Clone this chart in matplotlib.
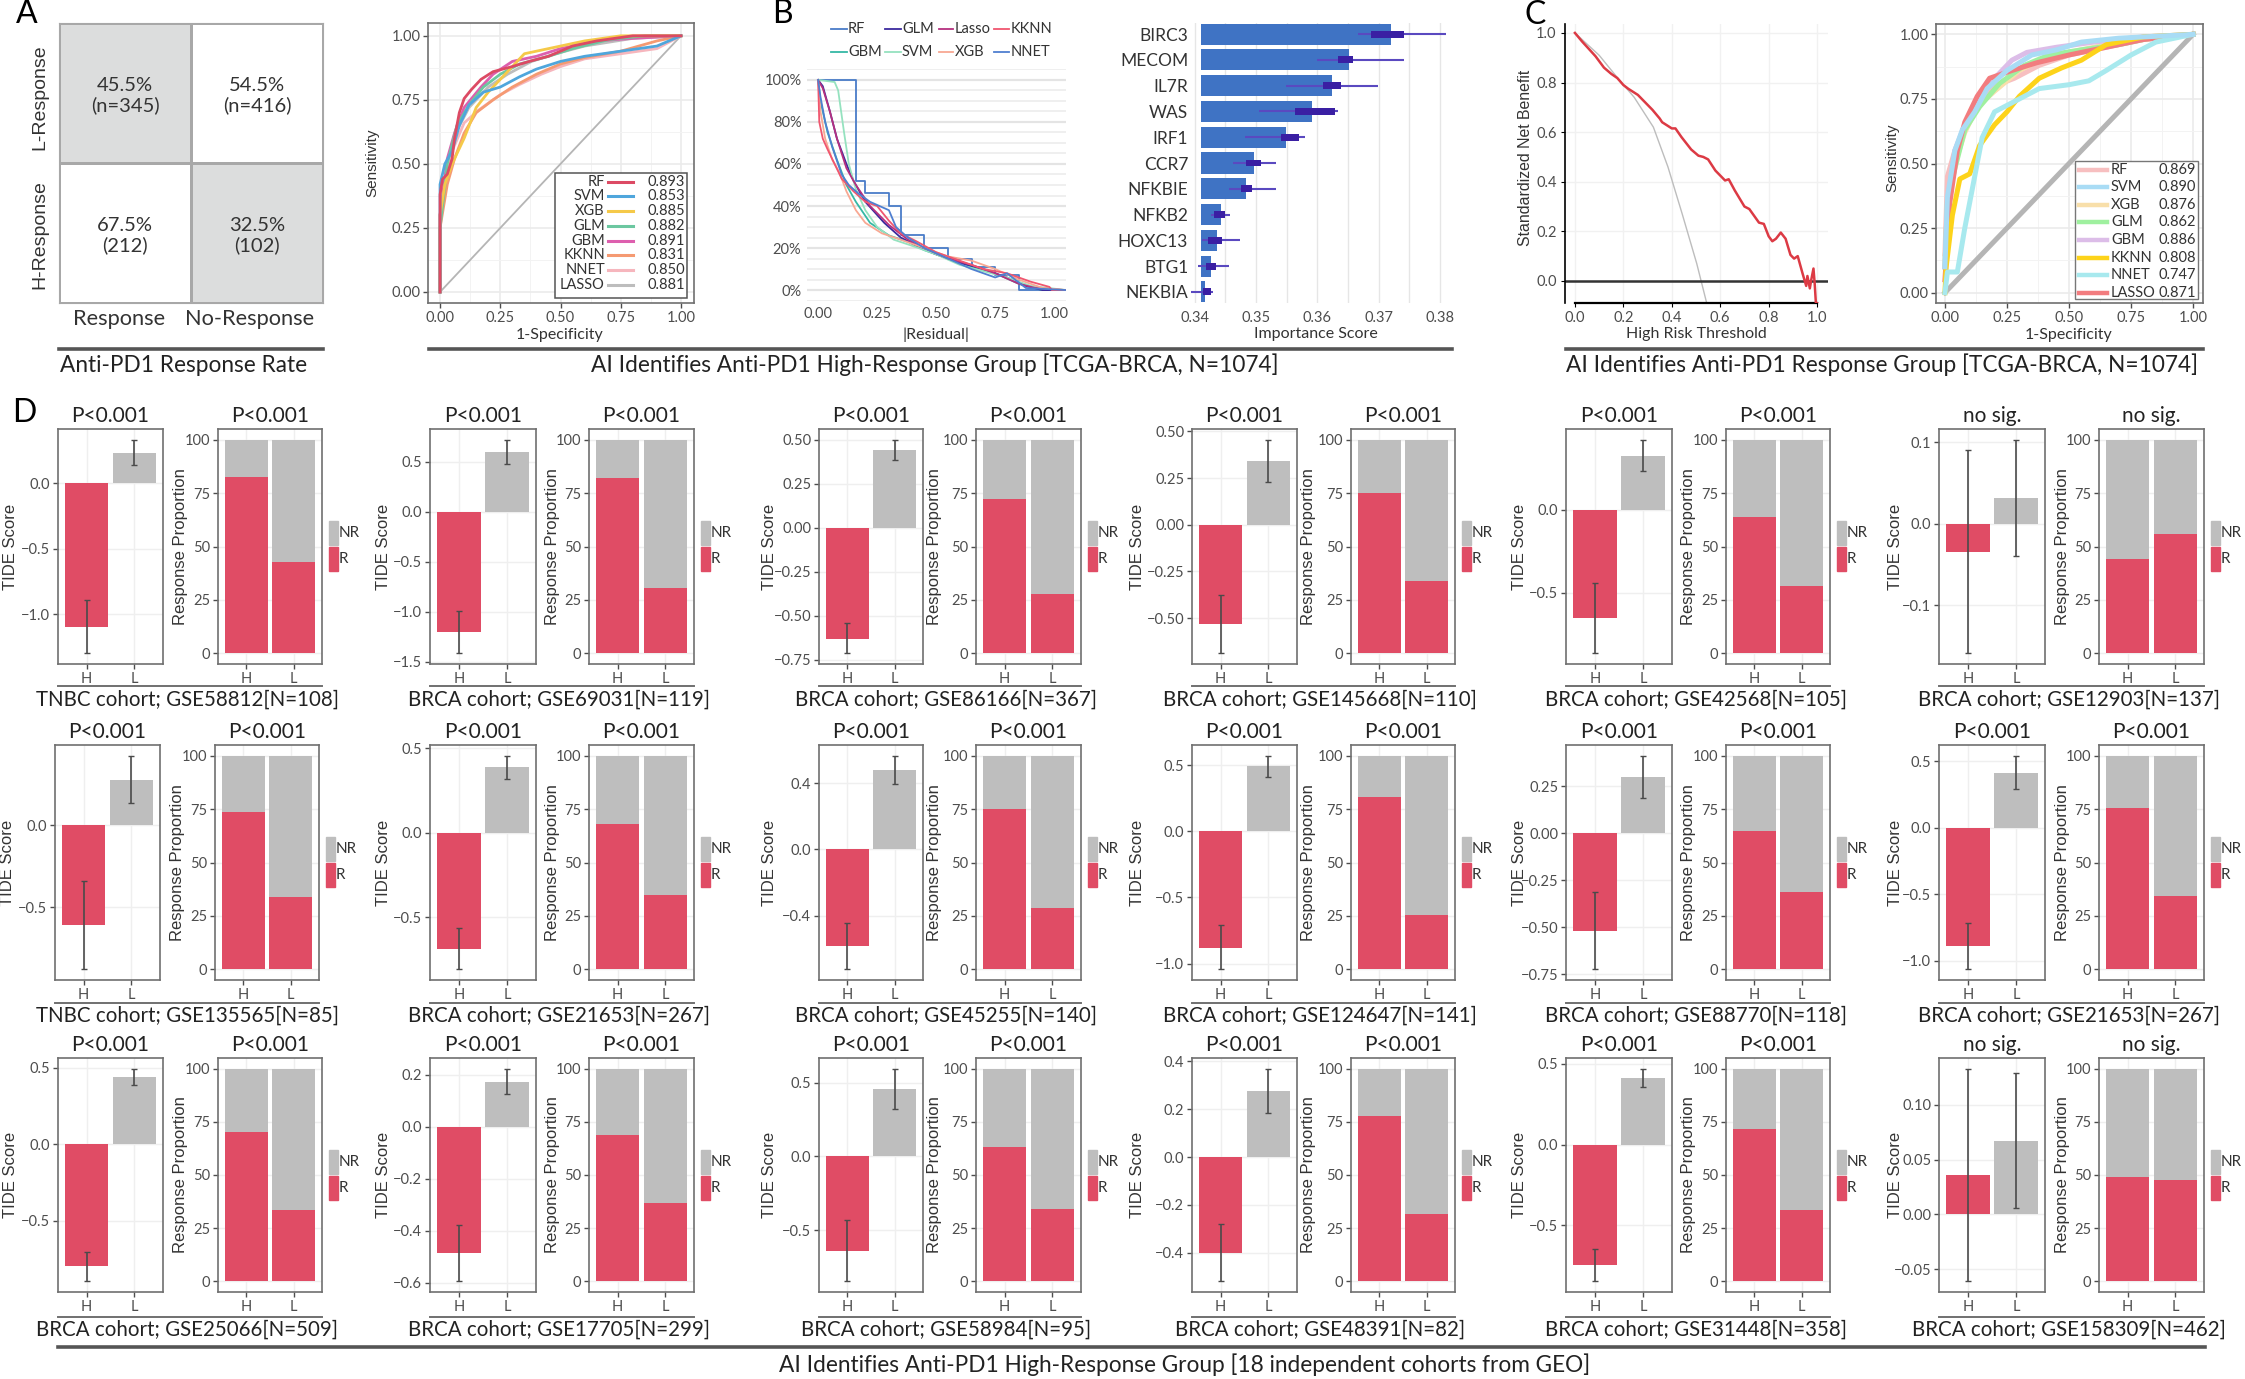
import matplotlib
matplotlib.use("Agg")
import matplotlib.pyplot as plt
from matplotlib.colors import ListedColormap
from matplotlib.lines import Line2D
from matplotlib.patches import Rectangle

W, H = 2245, 1379
plt.rcParams['font.family'] = ['Lato', 'DejaVu Sans']

# panel A, response table
heat_shade = [[0, 1], [1, 0]]
heat_pct = [["67.5%", "32.5%"], ["45.5%", "54.5%"]]
heat_n = [["(212)", "(102)"], ["(n=345)", "(n=416)"]]

# panel A, ROC curves (1-specificity, sensitivity)
roc_names = ["RF", "SVM", "XGB", "GLM", "GBM", "KKNN", "NNET", "LASSO"]
roc1_auc = ["0.893", "0.853", "0.885", "0.882", "0.891", "0.831", "0.850", "0.881"]
roc1_colors = ["#dc4a64", "#4fa6dc", "#f5c949", "#6cc7a0", "#dd5fae", "#f59a72", "#f6b6bd", "#bdbdbd"]
roc1_x = {
    "RF": [0, 0, .01, .03, .05, .06, .08, .1, .13, .17, .22, .3, .37, .45, .55, .65, .8, 1],
    "SVM": [0, 0, .02, .05, .08, .12, .18, .25, .33, .4, .5, .6, .75, .9, 1],
    "XGB": [0, 0, .02, .05, .1, .15, .2, .27, .35, .45, .6, .75, 1],
    "GLM": [0, 0, .03, .07, .12, .18, .25, .33, .45, .55, .7, .85, 1],
    "GBM": [0, 0, .03, .06, .1, .17, .22, .3, .4, .5, .65, .8, 1],
    "KKNN": [0, 0, .03, .06, .1, .15, .22, .3, .4, .5, .6, .75, .9, 1],
    "NNET": [0, 0, .02, .05, .1, .16, .25, .33, .42, .5, .6, .75, .9, 1],
    "LASSO": [0, 0, .03, .07, .12, .2, .28, .38, .48, .6, .8, 1],
}
roc1_y = {
    "RF": [0, .38, .44, .46, .52, .6, .7, .755, .79, .83, .86, .88, .9, .92, .96, .98, 1, 1],
    "SVM": [0, .42, .5, .55, .65, .73, .78, .8, .84, .87, .9, .92, .94, .96, 1],
    "XGB": [0, .3, .42, .5, .6, .72, .78, .85, .93, .95, .98, 1, 1],
    "GLM": [0, .25, .5, .65, .73, .8, .85, .89, .92, .95, .985, 1, 1],
    "GBM": [0, .3, .52, .62, .72, .8, .85, .9, .92, .95, .98, .99, 1],
    "KKNN": [0, .25, .42, .52, .62, .7, .75, .8, .85, .89, .915, .94, .98, 1],
    "NNET": [0, .3, .42, .55, .66, .71, .77, .81, .85, .88, .91, .93, .95, 1],
    "LASSO": [0, .3, .48, .63, .72, .8, .85, .9, .93, .96, .99, 1],
}

# panel B, reverse cumulative residuals
res_names = ["RF", "GBM", "GLM", "SVM", "Lasso", "XGB", "KKNN", "NNET"]
res_colors = ["#4a7cc8", "#35b8a5", "#3c2a9e", "#95e2bf", "#b5307f", "#f8a893", "#f0566f", "#4f7fd0"]
res_x = {
    "RF": [0, .16, .16, .2, .3, .35, .35, .45, .55, .65, .75, .85, .85, 1.05],
    "GBM": [0, .01, .04, .08, .12, .16, .22, .3, .38, .45, .55, .65, .75, .85, .95, 1.05],
    "GLM": [0, .02, .05, .08, .12, .15, .2, .28, .35, .42, .5, .6, .7, .8, .88, .95, 1.05],
    "SVM": [0, .07, .085, .11, .13, .16, .2, .25, .32, .4, .5, .6, .7, .8, .9, 1.05],
    "Lasso": [0, .02, .05, .08, .12, .16, .22, .3, .38, .45, .55, .65, .75, .85, .92, 1.05],
    "XGB": [0, .01, .03, .06, .09, .12, .16, .2, .27, .35, .45, .55, .65, .75, .85, .95, 1.05],
    "KKNN": [0, .005, .02, .04, .07, .1, .15, .2, .25, .3, .35, .42, .5, .6, .7, .8, .9, .98, .99, 1.05],
    "NNET": [0, .01, .03, .06, .1, .13, .17, .22, .3, .33, .38, .45, .55, .65, .75, .8, .88, 1.05],
}
res_y = {
    "RF": [100, 100, 52, 46, 40, 38.5, 26, 20, 15, 11, 7, 2, 0, 0],
    "GBM": [100, 90, 75, 62, 50, 42, 32, 26, 23, 19, 15, 11, 8, 3, 0, 0],
    "GLM": [100, 97, 85, 72, 60, 52, 42, 32, 25, 21, 17, 13, 10, 6, 2, 0, 0],
    "SVM": [100, 99, 95, 75, 60, 48, 38, 30, 24, 21, 17, 12, 9, 6, 2, 0],
    "Lasso": [100, 96, 85, 72, 58, 50, 40, 31, 24, 20, 15, 12, 8, 3, 1, 0],
    "XGB": [100, 85, 72, 62, 56, 47, 38, 32, 27, 24, 20, 16, 14, 10, 5, 1, 0],
    "KKNN": [100, 80, 72, 67, 60, 53, 47, 42, 40, 33, 27, 23, 18, 14, 10, 8, 4, 1.5, 0, 0],
    "NNET": [100, 92, 80, 68, 55, 50, 46, 42, 38, 30, 25, 20, 15, 10, 6, 8, 1, 0],
}

# panel B, importance
genes = ["BIRC3", "MECOM", "IL7R", "WAS", "IRF1", "CCR7", "NFKBIE", "NFKB2", "HOXC13", "BTG1", "NEKBIA"]
imp_score = [.3720, .3651, .3624, .3591, .3549, .3496, .3484, .3442, .3436, .3427, .3416]
imp_box_lo = [.3687, .3634, .3609, .3563, .3540, .3484, .3475, .3432, .3422, .3418, .3413]
imp_box_hi = [.3741, .3658, .3639, .3628, .3570, .3508, .3493, .3450, .3444, .3434, .3427]
imp_wh_lo = [.3666, .3599, .3549, .3505, .3482, .3463, .3455, .3427, .3412, .3406, .3394]
imp_wh_hi = [.3810, .3742, .3698, .3634, .3580, .3533, .3533, .3458, .3473, .3456, .3430]

# panel C, decision curve
dca_thr = [0, .03, .085, .12, .15, .175, .2, .22, .26, .3, .32, .35, .36, .4, .415, .44, .48, .51, .53,
           .55, .58, .62, .635, .66, .7, .72, .76, .78, .8, .815, .83, .85, .87, .89, .905, .92, .94,
           .955, .96, .97, .975, .985, .99, .995, 1]
dca_model = [1, .965, .906, .86, .835, .818, .79, .775, .75, .71, .69, .655, .64, .615, .615, .58, .53,
             .505, .50, .49, .445, .405, .41, .365, .30, .29, .235, .23, .18, .16, .17, .195, .17, .105,
             .09, .10, .03, -.02, .02, -.03, 0, .05, -.01, -.09, -.09]
dca_all_thr = [0, .1, .175, .245, .324, .384, .443, .503, .543]
dca_all = [1, .91, .82, .74, .62, .46, .27, .07, -.085]

# panel C, ROC curves
roc2_auc = ["0.869", "0.890", "0.876", "0.862", "0.886", "0.808", "0.747", "0.871"]
roc2_colors = ["#f7bfc0", "#a9dcf5", "#f8dfaa", "#9ff09f", "#dcbde8", "#fdd31a", "#a8e9ee", "#f27c7f"]
roc2_x = {
    "RF": [0, .01, .04, .08, .13, .2, .28, .38, .5, .65, .8, 1],
    "SVM": [0, .01, .04, .07, .12, .17, .25, .35, .45, .55, .7, 1],
    "XGB": [0, .01, .04, .08, .13, .2, .3, .4, .5, .65, .8, 1],
    "GLM": [0, .01, .04, .08, .14, .22, .32, .42, .55, .7, .85, 1],
    "GBM": [0, .01, .04, .08, .13, .19, .27, .33, .45, .6, .8, 1],
    "KKNN": [0, .005, .03, .06, .1, .14, .2, .25, .3, .38, .47, .55, .65, .8, 1],
    "NNET": [0, .01, .05, .08, .12, .15, .2, .3, .38, .5, .58, .65, .75, .85, 1],
    "LASSO": [0, .02, .05, .08, .13, .18, .27, .37, .5, .65, .8, 1],
}
roc2_y = {
    "RF": [.15, .45, .55, .64, .72, .8, .83, .88, .92, .95, .98, 1],
    "SVM": [.1, .37, .55, .63, .7, .79, .86, .92, .94, .97, .985, 1],
    "XGB": [.1, .35, .5, .62, .72, .78, .86, .91, .93, .96, .98, 1],
    "GLM": [.1, .35, .48, .63, .72, .81, .88, .92, .94, .96, .99, 1],
    "GBM": [.1, .35, .55, .65, .75, .82, .9, .93, .95, .97, .99, 1],
    "KKNN": [0, .1, .3, .44, .46, .57, .65, .7, .76, .83, .87, .9, .96, .99, 1],
    "NNET": [0, .08, .08, .25, .45, .6, .7, .75, .79, .805, .82, .86, .92, .97, 1],
    "LASSO": [.05, .35, .55, .66, .76, .83, .86, .89, .92, .95, .98, 1],
}

# panel D, 18 cohorts, row by row
cohorts = ["TNBC cohort; GSE58812[N=108]", "BRCA cohort; GSE69031[N=119]", "BRCA cohort; GSE86166[N=367]",
           "BRCA cohort; GSE145668[N=110]", "BRCA cohort; GSE42568[N=105]", "BRCA cohort; GSE12903[N=137]",
           "TNBC cohort; GSE135565[N=85]", "BRCA cohort; GSE21653[N=267]", "BRCA cohort; GSE45255[N=140]",
           "BRCA cohort; GSE124647[N=141]", "BRCA cohort; GSE88770[N=118]", "BRCA cohort; GSE21653[N=267]",
           "BRCA cohort; GSE25066[N=509]", "BRCA cohort; GSE17705[N=299]", "BRCA cohort; GSE58984[N=95]",
           "BRCA cohort; GSE48391[N=82]", "BRCA cohort; GSE31448[N=358]", "BRCA cohort; GSE158309[N=462]"]
sig = ["P<0.001"] * 5 + ["no sig."] + ["P<0.001"] * 11 + ["no sig."]
tide_h = [-1.094, -1.203, -.63, -.533, -.653, -.0344, -.612, -.685, -.583, -.879, -.52, -.89,
          -.80, -.485, -.64, -.399, -.744, .036]
tide_h_top = [-.89, -.99, -.543, -.376, -.44, .09, -.343, -.563, -.443, -.71, -.313, -.714,
              -.706, -.378, -.432, -.28, -.643, .133]
tide_h_bot = [-1.297, -1.417, -.713, -.689, -.866, -.159, -.88, -.807, -.723, -1.043, -.725, -1.065,
              -.898, -.595, -.849, -.519, -.846, -.061]
tide_l = [.231, .6, .44, .342, .325, .031, .274, .386, .477, .491, .3, .411,
          .437, .173, .459, .275, .41, .067]
tide_l_top = [.332, .723, .50, .456, .424, .103, .423, .455, .565, .572, .414, .541,
              .494, .224, .597, .369, .471, .129]
tide_l_bot = [.137, .483, .383, .229, .233, -.04, .132, .317, .395, .41, .19, .288,
              .387, .125, .324, .184, .355, .006]
tide_ticks = [[-1, -.5, 0], [-1.5, -1, -.5, 0, .5], [-.75, -.5, -.25, 0, .25, .5], [-.5, -.25, 0, .25, .5],
              [-.5, 0], [-.1, 0, .1], [-.5, 0], [-.5, 0, .5], [-.4, 0, .4], [-1, -.5, 0, .5],
              [-.75, -.5, -.25, 0, .25], [-1, -.5, 0, .5], [-.5, 0, .5], [-.6, -.4, -.2, 0, .2],
              [-.5, 0, .5], [-.4, -.2, 0, .2, .4], [-.5, 0, .5], [-.05, 0, .05, .1]]
tick_dec = [1, 1, 2, 2, 1, 1, 1, 1, 1, 1, 2, 1, 1, 1, 1, 1, 1, 2]
resp_h = [82.5, 82.2, 72.3, 75, 64, 44, 73.7, 68.1, 75.2, 80.5, 64.7, 75.6, 70, 68.8, 63, 77.8, 71.8, 49]
resp_l = [42.7, 30.6, 27.8, 34, 31.3, 55.8, 33.9, 34.7, 28.8, 25.5, 36.1, 34.1, 33.7, 36.8, 34, 31.7, 33.4, 47.7]

RED, GRAY = "#e04c65", "#bebebe"
SPINE, TICK = "#6f6f6f", "#4d4d4d"
HELV = ['Liberation Sans', 'DejaVu Sans']

fig = plt.figure(figsize=(W / 100, H / 100), dpi=100, facecolor='white')


def ax_px(x0, x1, y0, y1):
    return fig.add_axes([x0 / W, 1 - y1 / H, (x1 - x0) / W, (y1 - y0) / H])


def ftext(x, y, s, size=11, ha='center', va='center', **kw):
    fig.text(x / W, 1 - y / H, s, fontsize=size, ha=ha, va=va, **kw)


def rule(x0, x1, y, lw=1.4, color="#707070"):
    fig.add_artist(Line2D([x0 / W, x1 / W], [1 - y / H, 1 - y / H], lw=lw, color=color))


def bw_style(ax, ticksize=10.5):
    for s in ax.spines.values():
        s.set_color(SPINE)
        s.set_linewidth(1.2)
    ax.tick_params(labelsize=ticksize, labelcolor=TICK, color=TICK, length=3.5, width=1, pad=2)
    ax.set_axisbelow(True)


def roc_panel(ax, xs, ys, colors, lw, lim, tsize, order):
    bw_style(ax, tsize)
    ticks = [0, .25, .5, .75, 1]
    ax.set_xticks(ticks)
    ax.set_yticks(ticks)
    ax.set_xticklabels([f"{t:.2f}" for t in ticks])
    ax.set_yticklabels([f"{t:.2f}" for t in ticks])
    ax.set_xticks([.125, .375, .625, .875], minor=True)
    ax.set_yticks([.125, .375, .625, .875], minor=True)
    ax.tick_params(which='minor', length=0)
    ax.grid(True, which='major', color="#ebebeb", lw=1.2)
    ax.grid(True, which='minor', color="#f3f3f3", lw=.7)
    ax.plot([0, 1], [0, 1], color="#b5b5b5", lw=lw if lw > 2.5 else 1.3, zorder=2)
    for name in order:
        c = colors[roc_names.index(name)]
        ax.plot(xs[name], ys[name], color=c, lw=lw, zorder=3)
    ax.set_xlim(*lim)
    ax.set_ylim(*lim)


# panel letters
ftext(27, 14, "A", size=23)
ftext(782, 14, "B", size=23)
ftext(1535, 15, "C", size=23)
ftext(24, 413, "D", size=23)

# A table
ax = ax_px(59, 323, 23, 303)
ax.pcolormesh([0, 1, 2], [0, 1, 2], heat_shade, cmap=ListedColormap(["white", "#dcdddd"]),
              edgecolors="#a8a8a8", linewidth=1)
for i in range(2):
    for j in range(2):
        ax.text(j + .5, i + .557, heat_pct[i][j], ha='center', va='center', fontsize=14.5, color="#333333")
        ax.text(j + .5, i + .414, heat_n[i][j], ha='center', va='center', fontsize=14.5, color="#333333")
ax.set_xticks([])
ax.set_yticks([])
for s in ax.spines.values():
    s.set_color("#a8a8a8")
ftext(40, 97, "L-Response", size=14, rotation=90, family=HELV, color="#333333")
ftext(40, 235, "H-Response", size=14, rotation=90, family=HELV, color="#333333")
ftext(119, 319, "Response", size=15.7, color="#333333")
ftext(250, 319, "No-Response", size=15.7, color="#333333")
rule(59, 323, 349, lw=2.6, color="#555555")
ftext(184, 365, "Anti-PD1 Response Rate", size=16.3, color="#222222")

# A ROC
ax = ax_px(428, 694, 23, 303)
roc_panel(ax, roc1_x, roc1_y, roc1_colors, 2.0, (-.05, 1.054), 10.5, list(reversed(roc_names)))
ax.set_ylim(-.043, 1.05)
ftext(372, 163, "Sensitivity", size=11, rotation=90, family=HELV, color="#333333")
ftext(560, 335, "1-Specificity", size=11.5, color="#333333")
ax.add_patch(Rectangle((.477, .019), .498, .447, transform=ax.transAxes, fc='white', ec="#555555", lw=1.1, zorder=5))
for i, name in enumerate(roc_names):
    y = .433 - i * .0525
    ax.text(.665, y, name, transform=ax.transAxes, ha='right', va='center', fontsize=10.5, color="#333333", zorder=6)
    ax.plot([.675, .77], [y, y], transform=ax.transAxes, color=roc1_colors[i], lw=2.2, zorder=6)
    ax.text(.965, y, roc1_auc[i], transform=ax.transAxes, ha='right', va='center', fontsize=10.5, color="#333333", zorder=6)
rule(429, 1452, 349, lw=2.6, color="#555555")
ftext(935, 365, "AI Identifies Anti-PD1 High-Response Group [TCGA-BRCA, N=1074]", size=16.3, color="#222222")

# B residuals
ax = ax_px(807, 1066, 69, 301)
for s in ax.spines.values():
    s.set_visible(False)
ax.set_xlim(-.047, 1.05)
ax.set_ylim(-5.2, 105.2)
ax.set_yticks(range(0, 101, 20))
ax.set_yticklabels([f"{v}%" for v in range(0, 101, 20)])
ax.set_yticks(range(-5, 106, 5), minor=True)
ax.set_xticks([0, .25, .5, .75, 1])
ax.set_xticklabels(["0.00", "0.25", "0.50", "0.75", "1.00"])
ax.tick_params(axis='both', which='both', length=0, labelsize=10.5, labelcolor=TICK, pad=4)
ax.grid(True, axis='y', which='major', color="#e4e4e4", lw=1.6)
ax.grid(True, axis='y', which='minor', color="#ececec", lw=1.2)
ax.set_axisbelow(True)
for i, name in enumerate(res_names):
    ax.plot(res_x[name], res_y[name], color=res_colors[i], lw=1.3, drawstyle='default' if name != "RF" else 'steps-post')
leg_x = [(831, 847, 848), (885, 901, 902), (939, 953, 955), (994, 1009, 1011)]
leg_rows = [["RF", "GLM", "Lasso", "KKNN"], ["GBM", "SVM", "XGB", "NNET"]]
for r, row in enumerate(leg_rows):
    y = 29 + r * 23
    for (x0, x1, xt), name in zip(leg_x, row):
        fig.add_artist(Line2D([x0 / W, x1 / W], [1 - y / H, 1 - y / H], lw=1.3, color=res_colors[res_names.index(name)]))
        ftext(xt, y, name, size=10.5, ha='left', color="#333333")
ftext(936, 335, "|Residual|", size=11.5, color="#333333")

# B importance
ax = ax_px(1191, 1452, 23, 303)
for s in ax.spines.values():
    s.set_visible(False)
pos = list(range(len(genes) - 1, -1, -1))
base = .341
ax.barh(pos, [v - base for v in imp_score], left=base, height=.82, color="#3f73c4", zorder=2)
ax.hlines(pos, imp_wh_lo, imp_wh_hi, color="#5a49c0", lw=1.5, zorder=3)
ax.barh(pos, [a - b for a, b in zip(imp_box_hi, imp_box_lo)], left=imp_box_lo, height=.27, color="#3a1fa3", zorder=4)
ax.set_xlim(.33938, .38195)
ax.set_ylim(-.43, 10.43)
ax.set_xticks([.34, .35, .36, .37, .38])
ax.set_xticklabels(["0.34", "0.35", "0.36", "0.37", "0.38"])
ax.set_xticks([.345, .355, .365, .375], minor=True)
ax.set_yticks(pos)
ax.set_yticklabels(genes, fontsize=12.5, color="#333333")
ax.tick_params(axis='x', which='both', length=0, labelsize=10.5, labelcolor=TICK, pad=6)
ax.tick_params(axis='y', length=0, pad=2)
ax.grid(True, axis='x', which='both', color="#e6e6e6", lw=1)
ax.set_axisbelow(True)
ftext(1316, 334, "Importance Score", size=11.5, color="#333333")

# C decision curve
ax = ax_px(1565, 1828, 24, 303)
ax.set_xlim(-.041, 1.045)
ax.set_ylim(-.089, 1.036)
ax.grid(True, color="#f1f1f1", lw=1)
ax.set_axisbelow(True)
ax.plot(dca_all_thr, dca_all, color="#bdbdbd", lw=1.0)
ax.axhline(0, color="#333333", lw=1.8, zorder=2)
ax.plot(dca_thr, dca_model, color="#dc3a44", lw=1.8, zorder=3)
ax.spines['top'].set_visible(False)
ax.spines['right'].set_visible(False)
ax.spines['bottom'].set_bounds(0, 1)
ax.spines['bottom'].set_linewidth(1.6)
ax.spines['left'].set_linewidth(1.2)
ax.set_xticks([0, .2, .4, .6, .8, 1])
ax.set_yticks([0, .2, .4, .6, .8, 1])
ax.set_xticklabels(["0.0", "0.2", "0.4", "0.6", "0.8", "1.0"])
ax.set_yticklabels(["0.0", "0.2", "0.4", "0.6", "0.8", "1.0"])
ax.tick_params(labelsize=10.5, labelcolor=TICK, length=3, pad=3)
ftext(1525, 158, "Standardized Net Benefit", size=11.4, rotation=90, family=HELV, color="#333333")
ftext(1696, 334, "High Risk Threshold", size=11.5, color="#333333")

# C ROC
ax = ax_px(1936, 2203, 24, 303)
roc_panel(ax, roc2_x, roc2_y, roc2_colors, 3.6, (-.036, 1.04), 10.5,
          ["RF", "XGB", "GLM", "GBM", "LASSO", "KKNN", "NNET", "SVM"])
ax.set_ylim(-.04, 1.04)
ftext(1892, 158, "Sensitivity", size=11, rotation=90, family=HELV, color="#333333")
ftext(2069, 335, "1-Specificity", size=11.5, color="#333333")
ax.add_patch(Rectangle((.52, .014), .463, .495, transform=ax.transAxes, fc='white', ec="#777777", lw=1, zorder=5))
for i, name in enumerate(roc_names):
    y = .477 - i * .0628
    ax.plot([.535, .64], [y, y], transform=ax.transAxes, color=roc2_colors[i], lw=3.2, zorder=6)
    ax.text(.655, y, name, transform=ax.transAxes, ha='left', va='center', fontsize=10.5, color="#333333", zorder=6)
    ax.text(.975, y, roc2_auc[i], transform=ax.transAxes, ha='right', va='center', fontsize=10.5, color="#333333", zorder=6)
rule(1566, 2203, 349, lw=2.6, color="#555555")
ftext(1882, 365, "AI Identifies Anti-PD1 Response Group [TCGA-BRCA, N=1074]", size=16.3, color="#222222")

# D panels, pixel frames per column
tide_x = [(58, 163), (430, 536), (819, 923), (1192, 1297), (1566, 1672), (1939, 2045)]
prop_x = [(218, 322), (589, 694), (976, 1081), (1351, 1455), (1726, 1830), (2099, 2204)]
tide_lab_x = [11, 383, 769, 1137, 1520, 1895]
prop_lab_x = [180, 553, 935, 1308, 1689, 2062]
label_cx = [187, 559, 946, 1320, 1696, 2069]
row_y = [(429, 664), (745, 980), (1058, 1292)]
row_rule = [686, 1003, 1317]
row_lab = [700, 1016, 1330]

for k in range(18):
    row, col = k // 6, k % 6
    y0, y1 = row_y[row]
    shift = -3 if (row == 1 and col == 0) else 0

    ax = ax_px(tide_x[col][0] + shift, tide_x[col][1] + shift, y0, y1)
    bw_style(ax)
    ax.bar([0, 1], [tide_h[k], tide_l[k]], width=.9, color=[RED, GRAY], zorder=2)
    for xx, lo, hi in [(0, tide_h_bot[k], tide_h_top[k]), (1, tide_l_bot[k], tide_l_top[k])]:
        ax.errorbar(xx, (lo + hi) / 2, yerr=(hi - lo) / 2, color="#4a4a4a", lw=1.2, capsize=2, capthick=1, zorder=3)
    top, bot = max(tide_h_top[k], tide_l_top[k]), min(tide_h_bot[k], tide_l_bot[k])
    pad = (top - bot) * .05
    ax.set_ylim(bot - pad, top + pad)
    ax.set_xlim(-.6, 1.6)
    ax.set_xticks([0, 1])
    ax.set_xticklabels(["H", "L"])
    ax.set_yticks(tide_ticks[k])
    ax.set_yticklabels([f"{t:.{tick_dec[k]}f}".replace("-", "\u2212") for t in tide_ticks[k]])
    ax.grid(True, color="#efefef", lw=1)
    ax.set_title(sig[k], fontsize=15, color="#222222", pad=5)
    ftext(tide_lab_x[col] + shift, (y0 + y1) / 2, "TIDE Score", size=12, rotation=90, family=HELV, color="#333333")

    ax = ax_px(prop_x[col][0] + shift, prop_x[col][1] + shift, y0, y1)
    bw_style(ax)
    ax.bar([0, 1], [resp_h[k], resp_l[k]], width=.9, color=RED, zorder=2)
    ax.bar([0, 1], [100 - resp_h[k], 100 - resp_l[k]], bottom=[resp_h[k], resp_l[k]], width=.9, color=GRAY, zorder=2)
    ax.set_ylim(-5, 105)
    ax.set_xlim(-.6, 1.6)
    ax.set_xticks([0, 1])
    ax.set_xticklabels(["H", "L"])
    ax.set_yticks([0, 25, 50, 75, 100])
    ax.grid(True, color="#efefef", lw=1)
    ax.set_title(sig[k], fontsize=15, color="#222222", pad=5)
    ftext(prop_lab_x[col] + shift, (y0 + y1) / 2, "Response Proportion", size=12, rotation=90, family=HELV, color="#333333")

    # NR / R key next to the stacked bars
    lx = prop_x[col][1] + shift + 7
    fig.add_artist(Rectangle((lx / W, 1 - (y0 + 116) / H), 9 / W, 24 / H, transform=fig.transFigure, color=GRAY))
    fig.add_artist(Rectangle((lx / W, 1 - (y0 + 142) / H), 9 / W, 24 / H, transform=fig.transFigure, color=RED))
    ftext(lx + 10, y0 + 104, "NR", size=11, ha='left', color="#333333")
    ftext(lx + 10, y0 + 130, "R", size=11, ha='left', color="#333333")

    rule(tide_x[col][0] + shift, prop_x[col][1] + shift, row_rule[row])
    ftext(label_cx[col], row_lab[row], cohorts[k], size=14.8, color="#222222")

rule(58, 2205, 1347, lw=2.6, color="#555555")
ftext(1185, 1365, "AI Identifies Anti-PD1 High-Response Group [18 independent cohorts from GEO]", size=16.3, color="#222222")

fig.savefig("out.png", dpi=100)
